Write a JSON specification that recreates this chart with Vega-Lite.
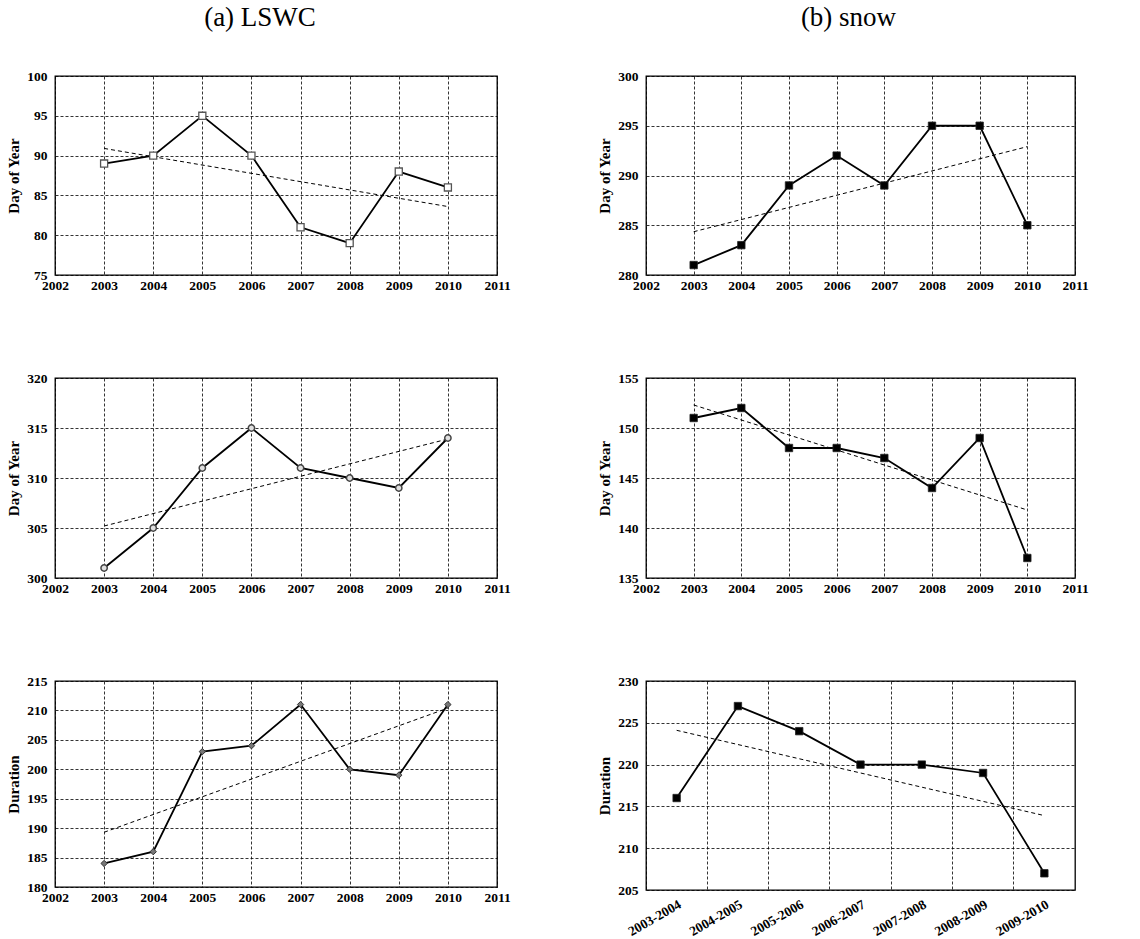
{
  "$schema": "https://vega.github.io/schema/vega-lite/v6.json",
  "padding": {"top": 3, "left": 6, "right": 5, "bottom": 4},
  "background": "white",
  "datasets": {
    "p1": [{"year": 2003, "value": 89}, {"year": 2004, "value": 90}, {"year": 2005, "value": 95}, {"year": 2006, "value": 90}, {"year": 2007, "value": 81}, {"year": 2008, "value": 79}, {"year": 2009, "value": 88}, {"year": 2010, "value": 86}],
    "t1": [{"year": 2003, "value": 90.9}, {"year": 2010, "value": 83.6}],
    "p2": [{"year": 2003, "value": 281}, {"year": 2004, "value": 283}, {"year": 2005, "value": 289}, {"year": 2006, "value": 292}, {"year": 2007, "value": 289}, {"year": 2008, "value": 295}, {"year": 2009, "value": 295}, {"year": 2010, "value": 285}],
    "t2": [{"year": 2003, "value": 284.35}, {"year": 2010, "value": 292.9}],
    "p3": [{"year": 2003, "value": 301}, {"year": 2004, "value": 305}, {"year": 2005, "value": 311}, {"year": 2006, "value": 315}, {"year": 2007, "value": 311}, {"year": 2008, "value": 310}, {"year": 2009, "value": 309}, {"year": 2010, "value": 314}],
    "t3": [{"year": 2003, "value": 305.2}, {"year": 2010, "value": 313.9}],
    "p4": [{"year": 2003, "value": 151}, {"year": 2004, "value": 152}, {"year": 2005, "value": 148}, {"year": 2006, "value": 148}, {"year": 2007, "value": 147}, {"year": 2008, "value": 144}, {"year": 2009, "value": 149}, {"year": 2010, "value": 137}],
    "t4": [{"year": 2003, "value": 152.3}, {"year": 2010, "value": 141.8}],
    "p5": [{"year": 2003, "value": 184}, {"year": 2004, "value": 186}, {"year": 2005, "value": 203}, {"year": 2006, "value": 204}, {"year": 2007, "value": 211}, {"year": 2008, "value": 200}, {"year": 2009, "value": 199}, {"year": 2010, "value": 211}],
    "t5": [{"year": 2003, "value": 189.3}, {"year": 2010, "value": 210.4}],
    "p6": [{"season": "2003-2004", "value": 216}, {"season": "2004-2005", "value": 227}, {"season": "2005-2006", "value": 224}, {"season": "2006-2007", "value": 220}, {"season": "2007-2008", "value": 220}, {"season": "2008-2009", "value": 219}, {"season": "2009-2010", "value": 207}],
    "t6": [{"idx": 1, "value": 224.1}, {"idx": 7, "value": 213.9}]
  },
  "spacing": 77,
  "vconcat": [
    {
      "spacing": 86,
      "hconcat": [
        {
          "width": 442, "height": 199,
          "title": {"text": "(a) LSWC", "fontSize": 27, "font": "Liberation Serif", "fontWeight": "normal", "anchor": "middle", "frame": "group", "dx": -16, "offset": 16, "baseline": "alphabetic", "color": "black"},
          "encoding": {
            "x": {"field": "year", "type": "quantitative", "title": null, "scale": {"domain": [2002, 2011], "nice": false, "zero": false}, "axis": {"values": [2002, 2003, 2004, 2005, 2006, 2007, 2008, 2009, 2010, 2011], "format": "d"}},
            "y": {"field": "value", "type": "quantitative", "title": "Day of Year", "scale": {"domain": [75, 100], "nice": false, "zero": false}, "axis": {"values": [75, 80, 85, 90, 95, 100]}}
          },
          "layer": [
            {"data": {"name": "t1"}, "mark": {"type": "line", "color": "black", "strokeWidth": 1, "strokeDash": [4, 3]}},
            {"data": {"name": "p1"}, "mark": {"type": "line", "color": "black", "strokeWidth": 1.8}},
            {"data": {"name": "p1"}, "mark": {"type": "point", "shape": "square", "size": 50, "filled": true, "fill": "white", "stroke": "#555555", "strokeWidth": 1.3, "opacity": 1}},
            {"data": {"values": [{"label": "R² = 0.25"}]}, "mark": {"type": "text", "align": "left", "baseline": "middle", "fontSize": 13.5, "fontWeight": "bold", "font": "Liberation Serif", "color": "black"},
             "encoding": {"x": {"datum": 2009.0, "type": "quantitative"}, "y": {"datum": 91.2, "type": "quantitative"}, "text": {"field": "label"}}}
          ]
        },
        {
          "width": 429, "height": 199,
          "title": {"text": "(b) snow", "fontSize": 27, "font": "Liberation Serif", "fontWeight": "normal", "anchor": "middle", "frame": "group", "dx": -12, "offset": 16, "baseline": "alphabetic", "color": "black"},
          "encoding": {
            "x": {"field": "year", "type": "quantitative", "title": null, "scale": {"domain": [2002, 2011], "nice": false, "zero": false}, "axis": {"values": [2002, 2003, 2004, 2005, 2006, 2007, 2008, 2009, 2010, 2011], "format": "d"}},
            "y": {"field": "value", "type": "quantitative", "title": "Day of Year", "scale": {"domain": [280, 300], "nice": false, "zero": false}, "axis": {"values": [280, 285, 290, 295, 300]}}
          },
          "layer": [
            {"data": {"name": "t2"}, "mark": {"type": "line", "color": "black", "strokeWidth": 1, "strokeDash": [4, 3]}},
            {"data": {"name": "p2"}, "mark": {"type": "line", "color": "black", "strokeWidth": 1.8}},
            {"data": {"name": "p2"}, "mark": {"type": "point", "shape": "square", "size": 55, "filled": true, "fill": "black", "stroke": "#222222", "strokeWidth": 0.8, "opacity": 1}},
            {"data": {"values": [{"label": "R² = 0.33"}]}, "mark": {"type": "text", "align": "left", "baseline": "middle", "fontSize": 13.5, "fontWeight": "bold", "font": "Liberation Serif", "color": "black"},
             "encoding": {"x": {"datum": 2009.1, "type": "quantitative"}, "y": {"datum": 297.2, "type": "quantitative"}, "text": {"field": "label"}}}
          ]
        }
      ]
    },
    {
      "spacing": 86,
      "hconcat": [
        {
          "width": 442, "height": 200,
          "encoding": {
            "x": {"field": "year", "type": "quantitative", "title": null, "scale": {"domain": [2002, 2011], "nice": false, "zero": false}, "axis": {"values": [2002, 2003, 2004, 2005, 2006, 2007, 2008, 2009, 2010, 2011], "format": "d"}},
            "y": {"field": "value", "type": "quantitative", "title": "Day of Year", "scale": {"domain": [300, 320], "nice": false, "zero": false}, "axis": {"values": [300, 305, 310, 315, 320]}}
          },
          "layer": [
            {"data": {"name": "t3"}, "mark": {"type": "line", "color": "black", "strokeWidth": 1, "strokeDash": [4, 3]}},
            {"data": {"name": "p3"}, "mark": {"type": "line", "color": "black", "strokeWidth": 1.8}},
            {"data": {"name": "p3"}, "mark": {"type": "point", "shape": "circle", "size": 40, "filled": true, "fill": "#e0e0e0", "stroke": "#444444", "strokeWidth": 1.5, "opacity": 1}},
            {"data": {"values": [{"label": "R² = 0.44"}]}, "mark": {"type": "text", "align": "left", "baseline": "middle", "fontSize": 13.5, "fontWeight": "bold", "font": "Liberation Serif", "color": "black"},
             "encoding": {"x": {"datum": 2009.05, "type": "quantitative"}, "y": {"datum": 315.7, "type": "quantitative"}, "text": {"field": "label"}}}
          ]
        },
        {
          "width": 429, "height": 200,
          "encoding": {
            "x": {"field": "year", "type": "quantitative", "title": null, "scale": {"domain": [2002, 2011], "nice": false, "zero": false}, "axis": {"values": [2002, 2003, 2004, 2005, 2006, 2007, 2008, 2009, 2010, 2011], "format": "d"}},
            "y": {"field": "value", "type": "quantitative", "title": "Day of Year", "scale": {"domain": [135, 155], "nice": false, "zero": false}, "axis": {"values": [135, 140, 145, 150, 155]}}
          },
          "layer": [
            {"data": {"name": "t4"}, "mark": {"type": "line", "color": "black", "strokeWidth": 1, "strokeDash": [4, 3]}},
            {"data": {"name": "p4"}, "mark": {"type": "line", "color": "black", "strokeWidth": 1.8}},
            {"data": {"name": "p4"}, "mark": {"type": "point", "shape": "square", "size": 55, "filled": true, "fill": "black", "stroke": "#222222", "strokeWidth": 0.8, "opacity": 1}},
            {"data": {"values": [{"label": "R² = 0.61"}]}, "mark": {"type": "text", "align": "left", "baseline": "middle", "fontSize": 13.5, "fontWeight": "bold", "font": "Liberation Serif", "color": "black"},
             "encoding": {"x": {"datum": 2009.05, "type": "quantitative"}, "y": {"datum": 151.4, "type": "quantitative"}, "text": {"field": "label"}}}
          ]
        }
      ]
    },
    {
      "spacing": 86,
      "hconcat": [
        {
          "width": 442, "height": 206,
          "encoding": {
            "x": {"field": "year", "type": "quantitative", "title": null, "scale": {"domain": [2002, 2011], "nice": false, "zero": false}, "axis": {"values": [2002, 2003, 2004, 2005, 2006, 2007, 2008, 2009, 2010, 2011], "format": "d"}},
            "y": {"field": "value", "type": "quantitative", "title": "Duration", "scale": {"domain": [180, 215], "nice": false, "zero": false}, "axis": {"values": [180, 185, 190, 195, 200, 205, 210, 215]}}
          },
          "layer": [
            {"data": {"name": "t5"}, "mark": {"type": "line", "color": "black", "strokeWidth": 1, "strokeDash": [4, 3]}},
            {"data": {"name": "p5"}, "mark": {"type": "line", "color": "black", "strokeWidth": 1.8}},
            {"data": {"name": "p5"}, "mark": {"type": "point", "shape": "diamond", "size": 40, "filled": true, "fill": "#777777", "stroke": "#333333", "strokeWidth": 1, "opacity": 1}},
            {"data": {"values": [{"label": "R² = 0.53"}]}, "mark": {"type": "text", "align": "left", "baseline": "middle", "fontSize": 13.5, "fontWeight": "bold", "font": "Liberation Serif", "color": "black"},
             "encoding": {"x": {"datum": 2009.03, "type": "quantitative"}, "y": {"datum": 193.6, "type": "quantitative"}, "text": {"field": "label"}}}
          ]
        },
        {
          "width": 429, "height": 209,
          "encoding": {
            "y": {"field": "value", "type": "quantitative", "title": "Duration", "scale": {"domain": [205, 230], "nice": false, "zero": false}, "axis": {"values": [205, 210, 215, 220, 225, 230]}}
          },
          "layer": [
            {"data": {"name": "t6"}, "mark": {"type": "line", "color": "black", "strokeWidth": 1, "strokeDash": [4, 3]},
             "encoding": {"x": {"field": "idx", "type": "quantitative", "scale": {"domain": [0.5, 7.5], "nice": false, "zero": false}, "axis": null}}},
            {"data": {"name": "p6"}, "mark": {"type": "line", "color": "black", "strokeWidth": 1.8},
             "encoding": {"x": {"field": "season", "type": "nominal", "title": null, "bandPosition": 0.5, "scale": {"type": "band", "paddingInner": 0, "paddingOuter": 0}, "axis": {"grid": false, "labelAngle": -30, "labelAlign": "right", "labelBaseline": "top", "labelPadding": 7}}}},
            {"data": {"name": "p6"}, "mark": {"type": "point", "shape": "square", "size": 55, "filled": true, "fill": "black", "stroke": "#222222", "strokeWidth": 0.8, "opacity": 1},
             "encoding": {"x": {"field": "season", "type": "nominal", "title": null, "bandPosition": 0.5, "scale": {"type": "band", "paddingInner": 0, "paddingOuter": 0}, "axis": {"grid": true, "bandPosition": 0, "labels": false, "ticks": false, "domain": false, "orient": "bottom"}}}},
            {"data": {"values": [{"label": "R² = 0.32"}]}, "mark": {"type": "text", "align": "left", "baseline": "middle", "fontSize": 13.5, "fontWeight": "bold", "font": "Liberation Serif", "color": "black"},
             "encoding": {"x": {"datum": 6.38, "type": "quantitative", "scale": {"domain": [0.5, 7.5], "nice": false, "zero": false}, "axis": null}, "y": {"datum": 221.4, "type": "quantitative"}, "text": {"field": "label"}}}
          ],
          "resolve": {"scale": {"x": "independent"}, "axis": {"x": "independent"}}
        }
      ]
    }
  ],
  "config": {
    "font": "Liberation Serif",
    "view": {"stroke": "black", "strokeWidth": 1.3},
    "axis": {
      "labelFont": "Liberation Serif", "labelFontWeight": "bold", "labelFontSize": 13.5, "labelColor": "black",
      "titleFont": "Liberation Serif", "titleFontWeight": "bold", "titleFontSize": 15, "titleColor": "black",
      "grid": true, "gridColor": "black", "gridDash": [3, 2], "gridWidth": 0.8, "gridOpacity": 1,
      "ticks": false, "domain": false, "labelOverlap": false, "labelFlush": false
    },
    "axisX": {"labelPadding": 3},
    "axisY": {"labelPadding": 8, "titlePadding": 5}
  }
}
